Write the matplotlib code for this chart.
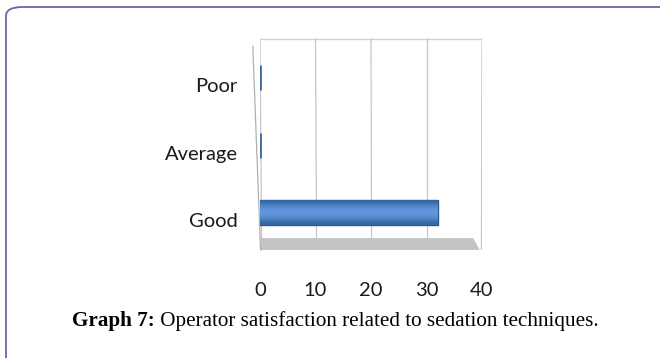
import numpy as np
import matplotlib.pyplot as plt
from matplotlib.patches import FancyBboxPatch, Polygon
from matplotlib.colors import LinearSegmentedColormap

# data
categories = ['Good', 'Average', 'Poor']
values = [32, 0, 0]
xticks = [0, 10, 20, 30, 40]
caption_bold = 'Graph 7:'
caption_rest = ' Operator satisfaction related to sedation techniques.'

W, H = 660, 358
fig = plt.figure(figsize=(W / 100, H / 100), dpi=100)

# rounded frame, only top and left edges visible
frame = FancyBboxPatch((6 / W, -0.2), 1.2, (H - 7) / H + 0.2,
                       boxstyle='round,pad=0,rounding_size=0.025',
                       transform=fig.transFigure, fill=False,
                       edgecolor='#6b65aa', linewidth=1.3)
fig.patches.append(frame)

# plot area: x 0->260px, 40->482px ; y from 38px (top) to 250px (floor)
ax = fig.add_axes([260 / W, (H - 250) / H, 222 / W, 212 / H])
ypos = np.arange(len(categories))
ax.set_xlim(0, 40)
ax.set_ylim(-0.444, 2.696)
for s in ax.spines.values():
    s.set_visible(False)

floor_top = -0.267
floor_bot = -0.444
top = 2.696

# floor
ax.add_patch(Polygon([(0, floor_bot), (39.6, floor_bot), (38.4, floor_top), (0.4, floor_top)],
                     closed=True, facecolor='#c4c4c4', edgecolor='none', zorder=1))
# back wall gridlines
for t in xticks:
    ax.plot([t + 0.3 - t * 0.01, t], [floor_bot, top], color='#c6c6c6', lw=0.9, zorder=1.5)
ax.plot([0, 40], [top - 0.01, top - 0.01], color='#cfcfcf', lw=0.9, zorder=1.5)
# left side wall edge
ax.plot([-1.3, 0.1], [2.57, floor_bot], color='#b0b0b0', lw=0.9, zorder=1.5, clip_on=False)

# bars (cylinder look)
bar_h = 0.37
off = 0.11
bars = ax.barh(ypos + off, values, height=bar_h, color='#4f81c7',
               edgecolor='#2c5a92', linewidth=1.0, zorder=3)
grad = np.array([0.0, 0.35, 0.6, 0.75, 0.8, 0.75, 0.55, 0.25, 0.0])[:, None]
cmap = LinearSegmentedColormap.from_list('cyl', ['#33649f', '#6097df'])
for b, v in zip(bars, values):
    if v > 0:
        im = ax.imshow(grad, cmap=cmap, aspect='auto', vmin=0, vmax=0.8,
                       extent=[b.get_x(), b.get_x() + b.get_width(),
                               b.get_y(), b.get_y() + b.get_height()],
                       interpolation='bicubic', zorder=3.5)
        im.set_clip_path(b)
    else:
        b.set_edgecolor('#3f6a9e')
        b.set_linewidth(2.0)

ax.set_yticks(ypos)
ax.set_yticklabels(categories)
ax.set_xticks(xticks)
ax.set_xticklabels([str(t) for t in xticks])
ax.tick_params(axis='y', length=0, pad=16, labelsize=14.5, labelcolor='#1a1a1a')
ax.tick_params(axis='x', length=0, pad=23, labelsize=14.5, labelcolor='#1a1a1a')
for lab in ax.get_yticklabels() + ax.get_xticklabels():
    lab.set_family(['Lato', 'DejaVu Sans'])

# caption
t1 = fig.text(72 / W, (H - 326) / H, caption_bold, fontsize=15.2, fontweight='bold',
              family='Liberation Serif', va='baseline', ha='left')
ax.annotate(caption_rest, xy=(1, 0), xycoords=t1, va='bottom', ha='left',
            fontsize=15.2, family='Liberation Serif', annotation_clip=False)

fig.savefig('out.png', dpi=100)
